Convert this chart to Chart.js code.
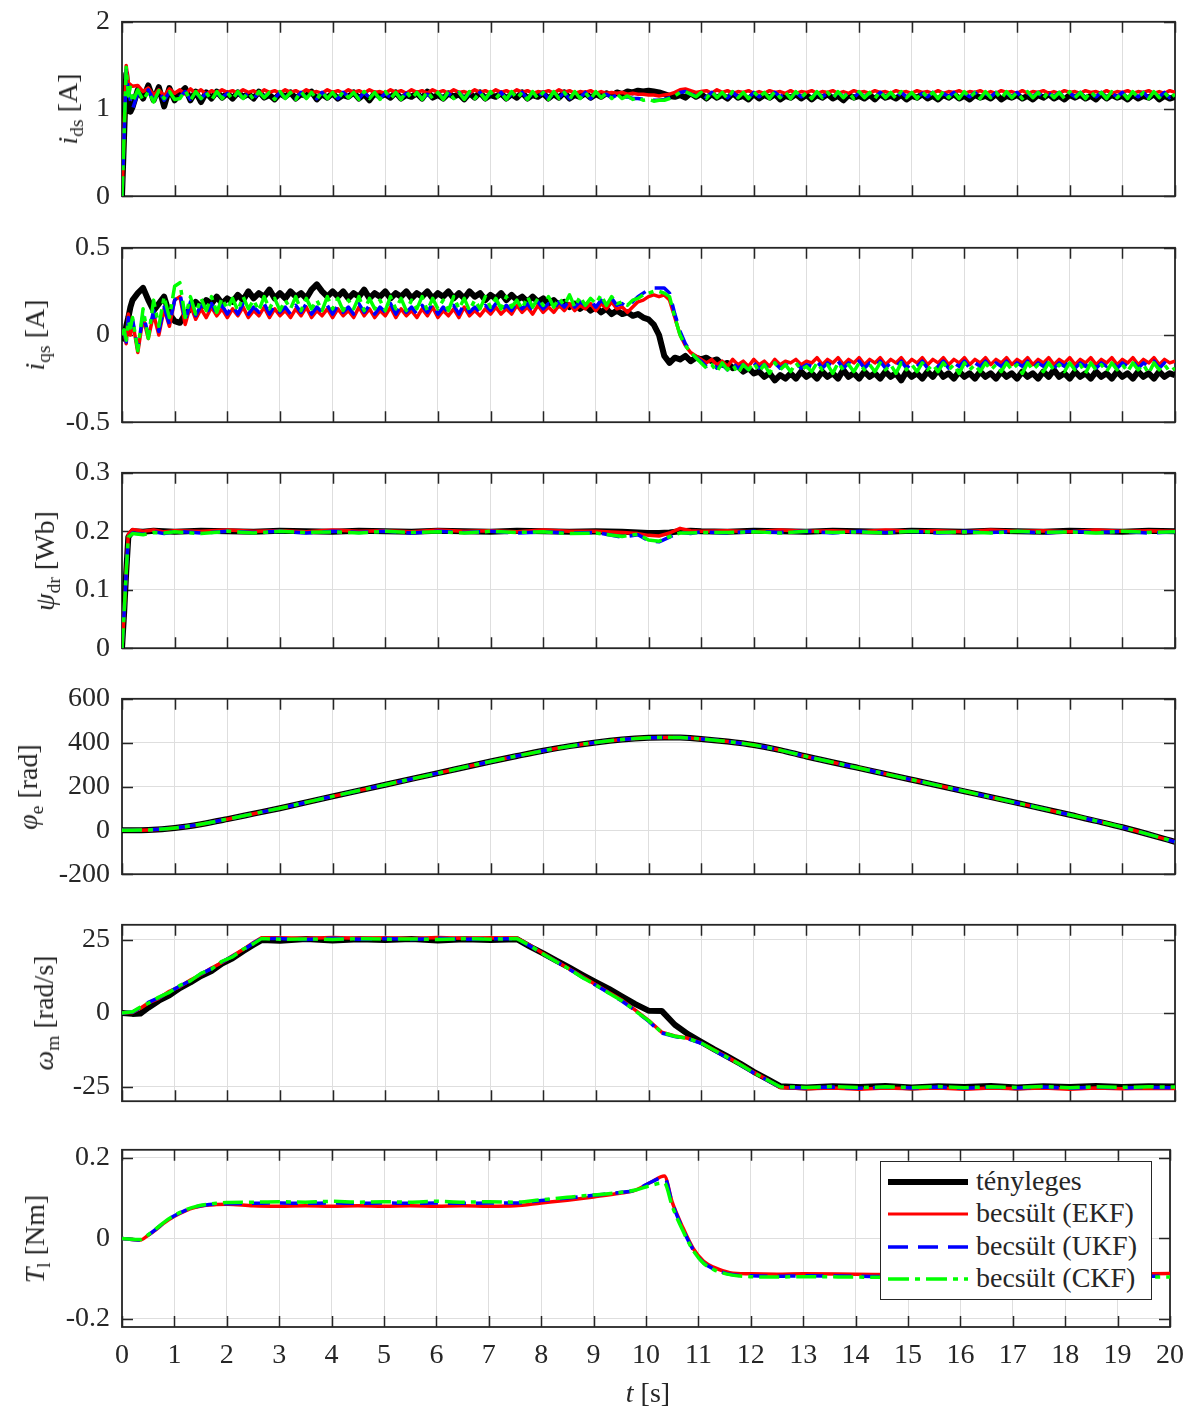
<!DOCTYPE html>
<html>
<head>
<meta charset="utf-8">
<script src="https://cdn.jsdelivr.net/npm/chart.js"></script>
<style>
  html, body { margin: 0; padding: 0; background: #fff; }
  #wrap { position: relative; width: 1196px; height: 1411px; overflow: hidden; font-family: 'Liberation Serif', serif; color: #262626; }
  canvas { position: absolute; left: 0; }
  .ylab { position: absolute; font-size: 28px; line-height: 1; white-space: nowrap; transform: translate(-50%, -50%) rotate(-90deg); }
  .ylab sub, .xlab sub { font-size: 0.7em; vertical-align: -0.3em; line-height: 0; }
  .xlab { position: absolute; font-size: 28px; line-height: 1; white-space: nowrap; transform: translate(-50%, -50%); }
  #legend { position: absolute; left: 880px; top: 1161px; width: 272px; height: 139px; box-sizing: border-box; border: 1.5px solid #262626; background: #fff; }
  #legend .row { position: absolute; left: 0; height: 32px; width: 100%; }
  #legend svg { position: absolute; left: 7px; top: 0; }
  #legend span { position: absolute; left: 95px; top: 50%; transform: translateY(-52%); font-size: 28px; line-height: 1; white-space: nowrap; }
</style>
</head>
<body>
<div id="wrap"></div>
<script>
// ---- time bases ----
const tB = [0, 0.04, 0.08, 0.12, 0.16, 0.2, 0.3, 0.4, 0.5, 0.6, 0.7, 0.8, 0.9, 1,
  1.1, 1.2, 1.3, 1.4, 1.5, 1.6, 1.7, 1.8, 1.9, 2,
  2.1, 2.2, 2.3, 2.4, 2.5, 2.6, 2.7, 2.8, 2.9, 3,
  3.1, 3.2, 3.3, 3.4, 3.5, 3.6, 3.7, 3.8, 3.9, 4,
  4.1, 4.2, 4.3, 4.4, 4.5, 4.6, 4.7, 4.8, 4.9, 5,
  5.1, 5.2, 5.3, 5.4, 5.5, 5.6, 5.7, 5.8, 5.9, 6,
  6.1, 6.2, 6.3, 6.4, 6.5, 6.6, 6.7, 6.8, 6.9, 7,
  7.1, 7.2, 7.3, 7.4, 7.5, 7.6, 7.7, 7.8, 7.9, 8,
  8.1, 8.2, 8.3, 8.4, 8.5, 8.6, 8.7, 8.8, 8.9, 9,
  9.1, 9.2, 9.3, 9.4, 9.5, 9.6, 9.7, 9.8, 9.9, 10,
  10.1, 10.2, 10.3, 10.4, 10.5, 10.6, 10.7, 10.8, 10.9, 11,
  11.1, 11.2, 11.3, 11.4, 11.5, 11.6, 11.7, 11.8, 11.9, 12,
  12.1, 12.2, 12.3, 12.4, 12.5, 12.6, 12.7, 12.8, 12.9, 13,
  13.1, 13.2, 13.3, 13.4, 13.5, 13.6, 13.7, 13.8, 13.9, 14,
  14.1, 14.2, 14.3, 14.4, 14.5, 14.6, 14.7, 14.8, 14.9, 15,
  15.1, 15.2, 15.3, 15.4, 15.5, 15.6, 15.7, 15.8, 15.9, 16,
  16.1, 16.2, 16.3, 16.4, 16.5, 16.6, 16.7, 16.8, 16.9, 17,
  17.1, 17.2, 17.3, 17.4, 17.5, 17.6, 17.7, 17.8, 17.9, 18,
  18.1, 18.2, 18.3, 18.4, 18.5, 18.6, 18.7, 18.8, 18.9, 19,
  19.1, 19.2, 19.3, 19.4, 19.5, 19.6, 19.7, 19.8, 19.9, 20];
const tC = [0, 0.04, 0.08, 0.12, 0.2, 0.4, 0.6, 0.8, 1, 1.5, 2, 2.5, 3, 3.5, 4, 4.5, 5, 5.5, 6,
  6.5, 7, 7.5, 8, 8.5, 9, 9.5, 9.8, 10, 10.2, 10.4, 10.6, 10.8, 11, 11.5, 12, 12.5, 13,
  13.5, 14, 14.5, 15, 15.5, 16, 16.5, 17, 17.5, 18, 18.5, 19, 19.5, 20];
const tD = [0, 0.5, 1, 1.5, 2, 2.5, 3, 4, 5, 6, 7, 7.5, 8, 8.5, 9, 9.5, 10, 10.3, 10.6, 11,
  11.5, 12, 12.5, 13, 14, 15, 16, 17, 18, 19, 20];
const tE = [0, 0.2, 0.35, 0.5, 0.7, 0.9, 1.1, 1.3, 1.5, 1.7, 1.9, 2.1, 2.3, 2.5, 2.65,
  3, 3.5, 4, 4.5, 5, 5.5, 6, 6.5, 7, 7.5,
  7.75, 8, 8.25, 8.5, 8.75, 9, 9.25, 9.5, 9.75, 10, 10.25, 10.5, 10.75, 11, 11.25, 11.5, 11.75, 12, 12.25, 12.5,
  13, 13.5, 14, 14.5, 15, 15.5, 16, 16.5, 17, 17.5, 18, 18.5, 19, 19.5, 20];
const tF = [0, 0.35, 0.5, 0.65, 0.8, 1, 1.2, 1.4, 1.6, 1.8, 2, 2.5, 3, 3.5, 4, 4.5, 5, 5.5, 6,
  6.5, 7, 7.5, 8, 8.5, 9, 9.5, 9.8, 10.1, 10.35, 10.5, 10.7, 10.9, 11.1, 11.3, 11.6, 12,
  12.5, 13, 14, 15, 16, 17, 18, 19, 20];

// ---- tick labels ----
const xTicks = [0, 1, 2, 3, 4, 5, 6, 7, 8, 9, 10, 11, 12, 13, 14, 15, 16, 17, 18, 19, 20];
const idsTicks = [0, 1, 2];
const iqsTicks = [-0.5, 0, 0.5];
const psiTicks = [0, 0.1, 0.2, 0.3];
const phiTicks = [-200, 0, 200, 400, 600];
const omegaTicks = [-25, 0, 25];
const tlTicks = [-0.2, 0, 0.2];

const legendLabels = ['tényleges', 'becsült (EKF)', 'becsült (UKF)', 'becsült (CKF)'];

// ---- i_ds [A] ----
const idsReal = [0, 0.7, 1.4, 1.05, 0.97, 1.02, 1.22, 1.12, 1.27, 1.1, 1.25, 1.03, 1.24, 1.1,
  1.18, 1.24, 1.1, 1.2, 1.08, 1.19, 1.12, 1.2, 1.13, 1.18,
  1.12, 1.19, 1.14, 1.17, 1.12, 1.2, 1.13, 1.16, 1.11, 1.18,
  1.14, 1.19, 1.12, 1.17, 1.15, 1.2, 1.11, 1.17, 1.13, 1.18,
  1.12, 1.16, 1.14, 1.19, 1.12, 1.17, 1.1, 1.18, 1.14, 1.17,
  1.13, 1.19, 1.12, 1.16, 1.14, 1.18, 1.12, 1.2, 1.13, 1.16,
  1.12, 1.18, 1.14, 1.17, 1.11, 1.18, 1.13, 1.19, 1.12, 1.16,
  1.14, 1.18, 1.12, 1.17, 1.13, 1.19, 1.12, 1.16, 1.14, 1.18,
  1.12, 1.17, 1.13, 1.19, 1.12, 1.16, 1.14, 1.18, 1.13, 1.17,
  1.14, 1.18, 1.15, 1.19, 1.17, 1.2, 1.19, 1.21, 1.2, 1.21,
  1.2, 1.19, 1.17, 1.15, 1.14, 1.16, 1.13, 1.18, 1.14, 1.17,
  1.12, 1.17, 1.13, 1.16, 1.12, 1.18, 1.13, 1.15, 1.11, 1.17,
  1.12, 1.16, 1.13, 1.17, 1.11, 1.15, 1.13, 1.17, 1.12, 1.16,
  1.11, 1.16, 1.13, 1.17, 1.12, 1.15, 1.1, 1.16, 1.13, 1.15,
  1.12, 1.16, 1.11, 1.17, 1.13, 1.15, 1.12, 1.16, 1.11, 1.15,
  1.13, 1.17, 1.12, 1.15, 1.11, 1.16, 1.13, 1.17, 1.12, 1.15,
  1.11, 1.16, 1.13, 1.15, 1.12, 1.17, 1.11, 1.15, 1.13, 1.16,
  1.12, 1.15, 1.11, 1.16, 1.13, 1.17, 1.12, 1.15, 1.11, 1.16,
  1.13, 1.16, 1.12, 1.15, 1.11, 1.17, 1.12, 1.16, 1.13, 1.15,
  1.11, 1.16, 1.12, 1.15, 1.13, 1.17, 1.11, 1.15, 1.12, 1.14];
const idsEKF = [0, 0.75, 1.5, 1.3, 1.28, 1.26, 1.27, 1.2, 1.24, 1.16, 1.22, 1.15, 1.23, 1.18,
  1.22, 1.17, 1.23, 1.18, 1.22, 1.17, 1.21, 1.18, 1.22, 1.19,
  1.21, 1.18, 1.22, 1.19, 1.21, 1.17, 1.22, 1.19, 1.21, 1.18,
  1.22, 1.19, 1.21, 1.18, 1.22, 1.19, 1.2, 1.18, 1.22, 1.19,
  1.21, 1.18, 1.22, 1.19, 1.21, 1.18, 1.22, 1.19, 1.2, 1.18,
  1.22, 1.19, 1.21, 1.18, 1.22, 1.19, 1.21, 1.18, 1.22, 1.19,
  1.21, 1.18, 1.22, 1.19, 1.2, 1.18, 1.22, 1.19, 1.21, 1.18,
  1.22, 1.19, 1.21, 1.18, 1.22, 1.19, 1.21, 1.18, 1.2, 1.19,
  1.21, 1.18, 1.22, 1.19, 1.21, 1.18, 1.2, 1.19, 1.21, 1.18,
  1.2, 1.18, 1.19, 1.18, 1.19, 1.17, 1.18, 1.17, 1.17, 1.16,
  1.16, 1.15, 1.16, 1.17, 1.19, 1.22, 1.23, 1.21, 1.19, 1.2,
  1.21, 1.18, 1.22, 1.19, 1.21, 1.18, 1.2, 1.19, 1.21, 1.18,
  1.2, 1.18, 1.21, 1.19, 1.2, 1.18, 1.21, 1.18, 1.2, 1.19,
  1.21, 1.18, 1.2, 1.19, 1.21, 1.18, 1.2, 1.18, 1.21, 1.19,
  1.2, 1.18, 1.21, 1.19, 1.2, 1.18, 1.21, 1.19, 1.2, 1.18,
  1.21, 1.19, 1.2, 1.18, 1.21, 1.18, 1.2, 1.19, 1.21, 1.18,
  1.2, 1.19, 1.21, 1.18, 1.2, 1.18, 1.21, 1.19, 1.2, 1.18,
  1.21, 1.18, 1.2, 1.19, 1.21, 1.18, 1.2, 1.18, 1.21, 1.19,
  1.2, 1.18, 1.21, 1.19, 1.2, 1.18, 1.21, 1.18, 1.2, 1.19,
  1.21, 1.18, 1.2, 1.19, 1.21, 1.18, 1.2, 1.18, 1.21, 1.19];
const idsUKF = [0, 0.7, 1.45, 1.2, 1.1, 1.0, 1.18, 1.14, 1.22, 1.1, 1.2, 1.1, 1.19, 1.12,
  1.14, 1.2, 1.11, 1.19, 1.12, 1.18, 1.11, 1.19, 1.13, 1.18,
  1.12, 1.19, 1.13, 1.18, 1.12, 1.19, 1.14, 1.18, 1.12, 1.19,
  1.13, 1.18, 1.12, 1.19, 1.13, 1.17, 1.12, 1.19, 1.13, 1.18,
  1.12, 1.19, 1.14, 1.18, 1.12, 1.19, 1.13, 1.17, 1.12, 1.18,
  1.13, 1.19, 1.12, 1.18, 1.14, 1.19, 1.12, 1.17, 1.13, 1.19,
  1.12, 1.18, 1.13, 1.19, 1.12, 1.18, 1.14, 1.19, 1.12, 1.18,
  1.13, 1.19, 1.12, 1.17, 1.13, 1.19, 1.12, 1.18, 1.14, 1.19,
  1.12, 1.18, 1.13, 1.19, 1.12, 1.17, 1.13, 1.19, 1.12, 1.18,
  1.14, 1.17, 1.13, 1.16, 1.13, 1.14, 1.12, 1.12, 1.11, 1.11,
  1.1, 1.1, 1.11, 1.13, 1.16, 1.19, 1.2, 1.17, 1.15, 1.18,
  1.13, 1.19, 1.14, 1.18, 1.13, 1.19, 1.14, 1.18, 1.13, 1.19,
  1.14, 1.18, 1.13, 1.19, 1.14, 1.18, 1.13, 1.19, 1.14, 1.18,
  1.13, 1.19, 1.14, 1.18, 1.13, 1.19, 1.14, 1.18, 1.13, 1.19,
  1.14, 1.18, 1.13, 1.19, 1.14, 1.18, 1.13, 1.19, 1.14, 1.18,
  1.13, 1.18, 1.14, 1.19, 1.13, 1.18, 1.14, 1.19, 1.13, 1.18,
  1.14, 1.19, 1.13, 1.18, 1.14, 1.19, 1.13, 1.18, 1.14, 1.19,
  1.13, 1.18, 1.14, 1.19, 1.13, 1.18, 1.14, 1.19, 1.13, 1.18,
  1.14, 1.19, 1.13, 1.18, 1.14, 1.19, 1.13, 1.18, 1.14, 1.19,
  1.13, 1.18, 1.14, 1.19, 1.13, 1.18, 1.14, 1.19, 1.13, 1.17];
const idsCKF = [0, 0.7, 1.48, 1.15, 1.25, 1.08, 1.22, 1.1, 1.2, 1.08, 1.21, 1.12, 1.2, 1.11,
  1.12, 1.21, 1.1, 1.2, 1.12, 1.19, 1.1, 1.2, 1.12, 1.19,
  1.11, 1.2, 1.12, 1.19, 1.11, 1.2, 1.13, 1.19, 1.11, 1.2,
  1.12, 1.19, 1.11, 1.2, 1.12, 1.19, 1.11, 1.2, 1.12, 1.19,
  1.11, 1.2, 1.13, 1.19, 1.11, 1.2, 1.12, 1.19, 1.11, 1.2,
  1.12, 1.19, 1.11, 1.2, 1.12, 1.19, 1.11, 1.2, 1.12, 1.19,
  1.11, 1.2, 1.12, 1.19, 1.11, 1.2, 1.12, 1.19, 1.11, 1.2,
  1.12, 1.19, 1.11, 1.2, 1.12, 1.19, 1.11, 1.2, 1.12, 1.19,
  1.11, 1.2, 1.12, 1.19, 1.11, 1.2, 1.12, 1.19, 1.11, 1.2,
  1.13, 1.18, 1.12, 1.17, 1.12, 1.15, 1.11, 1.13, 1.1, 1.11,
  1.09, 1.1, 1.1, 1.12, 1.15, 1.19, 1.2, 1.17, 1.14, 1.19,
  1.12, 1.2, 1.13, 1.19, 1.12, 1.2, 1.13, 1.19, 1.12, 1.2,
  1.13, 1.19, 1.12, 1.2, 1.13, 1.19, 1.12, 1.2, 1.13, 1.19,
  1.12, 1.2, 1.13, 1.19, 1.12, 1.2, 1.13, 1.19, 1.12, 1.2,
  1.13, 1.19, 1.12, 1.2, 1.13, 1.19, 1.12, 1.2, 1.13, 1.19,
  1.12, 1.2, 1.13, 1.19, 1.12, 1.2, 1.13, 1.19, 1.12, 1.2,
  1.13, 1.19, 1.12, 1.2, 1.13, 1.19, 1.12, 1.2, 1.13, 1.19,
  1.12, 1.2, 1.13, 1.19, 1.12, 1.2, 1.13, 1.19, 1.12, 1.2,
  1.13, 1.19, 1.12, 1.2, 1.13, 1.19, 1.12, 1.2, 1.13, 1.19,
  1.12, 1.2, 1.13, 1.19, 1.12, 1.2, 1.13, 1.19, 1.12, 1.17];

// ---- i_qs [A] ----
const iqsReal = [0, -0.02, 0.05, 0.1, 0.16, 0.2, 0.24, 0.27, 0.2, 0.14, 0.18, 0.22, 0.12, 0.08,
  0.07, 0.12, 0.15, 0.19, 0.16, 0.2, 0.18, 0.22, 0.18, 0.21,
  0.19, 0.23, 0.2, 0.25, 0.21, 0.24, 0.22, 0.26, 0.21, 0.24,
  0.21, 0.25, 0.22, 0.24, 0.21, 0.26, 0.29, 0.25, 0.22, 0.25,
  0.22, 0.25, 0.21, 0.24, 0.22, 0.26, 0.21, 0.24, 0.22, 0.25,
  0.21, 0.24, 0.22, 0.25, 0.21, 0.24, 0.22, 0.25, 0.21, 0.24,
  0.22, 0.25, 0.21, 0.24, 0.21, 0.25, 0.22, 0.24, 0.2, 0.23,
  0.21, 0.24, 0.2, 0.23, 0.2, 0.22, 0.19, 0.22, 0.19, 0.21,
  0.18, 0.2, 0.17, 0.19, 0.16, 0.18, 0.15, 0.17, 0.14, 0.16,
  0.13, 0.15, 0.12, 0.14, 0.12, 0.13, 0.11, 0.12, 0.1, 0.09,
  0.06, 0.0, -0.12, -0.16, -0.13, -0.14, -0.12, -0.15, -0.13, -0.14,
  -0.13, -0.15, -0.14, -0.17, -0.16, -0.19, -0.18, -0.21, -0.19, -0.22,
  -0.21, -0.24, -0.22, -0.26, -0.23, -0.25, -0.22, -0.25, -0.21, -0.24,
  -0.22, -0.25, -0.21, -0.24, -0.22, -0.25, -0.2, -0.24, -0.22, -0.25,
  -0.21, -0.24, -0.22, -0.25, -0.21, -0.24, -0.22, -0.26, -0.21, -0.24,
  -0.22, -0.25, -0.21, -0.24, -0.2, -0.24, -0.22, -0.25, -0.21, -0.24,
  -0.22, -0.25, -0.21, -0.24, -0.22, -0.25, -0.21, -0.24, -0.22, -0.25,
  -0.21, -0.24, -0.22, -0.25, -0.21, -0.24, -0.2, -0.24, -0.22, -0.25,
  -0.21, -0.24, -0.22, -0.25, -0.21, -0.24, -0.22, -0.25, -0.21, -0.24,
  -0.22, -0.25, -0.21, -0.24, -0.22, -0.25, -0.21, -0.24, -0.22, -0.23];
const iqsEKF = [0, 0.02, -0.05, 0.12, 0.0, 0.08, -0.1, 0.1, -0.02, 0.12, 0.0, 0.15, 0.05, 0.2,
  0.22, 0.06, 0.17, 0.09, 0.15, 0.1, 0.16, 0.11, 0.15, 0.1,
  0.15, 0.11, 0.16, 0.1, 0.14, 0.11, 0.16, 0.1, 0.15, 0.11,
  0.14, 0.1, 0.15, 0.11, 0.16, 0.1, 0.14, 0.11, 0.15, 0.1,
  0.15, 0.11, 0.14, 0.1, 0.16, 0.11, 0.15, 0.1, 0.14, 0.11,
  0.16, 0.1, 0.15, 0.11, 0.14, 0.1, 0.15, 0.11, 0.16, 0.1,
  0.14, 0.11, 0.15, 0.1, 0.16, 0.11, 0.14, 0.11, 0.15, 0.12,
  0.16, 0.12, 0.15, 0.12, 0.17, 0.13, 0.16, 0.12, 0.17, 0.13,
  0.16, 0.13, 0.17, 0.14, 0.18, 0.14, 0.17, 0.15, 0.18, 0.14,
  0.18, 0.15, 0.19, 0.15, 0.16, 0.13, 0.16, 0.19, 0.2, 0.22,
  0.23, 0.22, 0.23, 0.2, 0.1, 0.0, -0.06, -0.1, -0.12, -0.14,
  -0.16, -0.14, -0.17, -0.15, -0.18, -0.14, -0.17, -0.15, -0.18, -0.14,
  -0.17, -0.15, -0.18, -0.14, -0.17, -0.15, -0.16, -0.14, -0.17, -0.15,
  -0.16, -0.13, -0.17, -0.14, -0.16, -0.13, -0.17, -0.14, -0.16, -0.13,
  -0.17, -0.14, -0.16, -0.13, -0.17, -0.14, -0.16, -0.13, -0.17, -0.14,
  -0.16, -0.13, -0.17, -0.14, -0.16, -0.13, -0.17, -0.14, -0.16, -0.13,
  -0.17, -0.14, -0.16, -0.13, -0.17, -0.14, -0.16, -0.13, -0.17, -0.14,
  -0.16, -0.13, -0.17, -0.14, -0.16, -0.13, -0.17, -0.14, -0.16, -0.13,
  -0.17, -0.14, -0.16, -0.13, -0.17, -0.14, -0.16, -0.13, -0.17, -0.14,
  -0.16, -0.13, -0.17, -0.14, -0.16, -0.13, -0.17, -0.14, -0.16, -0.15];
const iqsUKF = [0, 0.02, -0.04, 0.1, 0.02, 0.09, -0.08, 0.12, 0.0, 0.14, 0.02, 0.16, 0.06, 0.2,
  0.24, 0.08, 0.19, 0.11, 0.17, 0.12, 0.18, 0.12, 0.17, 0.12,
  0.17, 0.12, 0.18, 0.12, 0.16, 0.13, 0.18, 0.12, 0.17, 0.13,
  0.16, 0.12, 0.17, 0.13, 0.18, 0.12, 0.16, 0.13, 0.17, 0.12,
  0.17, 0.13, 0.16, 0.12, 0.18, 0.13, 0.17, 0.12, 0.16, 0.13,
  0.18, 0.12, 0.17, 0.13, 0.16, 0.12, 0.17, 0.13, 0.18, 0.12,
  0.16, 0.13, 0.17, 0.12, 0.18, 0.13, 0.16, 0.13, 0.17, 0.14,
  0.18, 0.14, 0.17, 0.14, 0.19, 0.15, 0.18, 0.14, 0.19, 0.15,
  0.18, 0.15, 0.19, 0.16, 0.2, 0.16, 0.19, 0.17, 0.2, 0.16,
  0.2, 0.17, 0.21, 0.17, 0.18, 0.16, 0.19, 0.22, 0.24, 0.26,
  0.27, 0.27, 0.27, 0.24, 0.12, 0.02, -0.05, -0.1, -0.13, -0.15,
  -0.18, -0.16, -0.19, -0.17, -0.2, -0.16, -0.19, -0.17, -0.2, -0.16,
  -0.19, -0.17, -0.2, -0.16, -0.19, -0.17, -0.18, -0.16, -0.19, -0.17,
  -0.18, -0.15, -0.19, -0.16, -0.18, -0.15, -0.19, -0.16, -0.18, -0.15,
  -0.19, -0.16, -0.18, -0.15, -0.19, -0.16, -0.18, -0.15, -0.19, -0.16,
  -0.18, -0.15, -0.19, -0.16, -0.18, -0.15, -0.19, -0.16, -0.18, -0.15,
  -0.19, -0.16, -0.18, -0.15, -0.19, -0.16, -0.18, -0.15, -0.19, -0.16,
  -0.18, -0.15, -0.19, -0.16, -0.18, -0.15, -0.19, -0.16, -0.18, -0.15,
  -0.19, -0.16, -0.18, -0.15, -0.19, -0.16, -0.18, -0.15, -0.19, -0.16,
  -0.18, -0.15, -0.19, -0.16, -0.18, -0.15, -0.19, -0.16, -0.18, -0.17];
const iqsCKF = [0, 0.03, -0.03, 0.08, 0.04, 0.1, -0.09, 0.15, -0.02, 0.2, 0.05, 0.22, 0.1, 0.28,
  0.3, 0.1, 0.22, 0.12, 0.21, 0.14, 0.22, 0.13, 0.21, 0.15,
  0.21, 0.14, 0.22, 0.15, 0.2, 0.14, 0.22, 0.15, 0.21, 0.14,
  0.2, 0.15, 0.22, 0.14, 0.21, 0.15, 0.2, 0.14, 0.22, 0.15,
  0.21, 0.14, 0.2, 0.15, 0.22, 0.14, 0.21, 0.15, 0.2, 0.14,
  0.22, 0.15, 0.21, 0.14, 0.2, 0.15, 0.22, 0.14, 0.21, 0.15,
  0.2, 0.14, 0.22, 0.15, 0.21, 0.14, 0.2, 0.15, 0.22, 0.16,
  0.21, 0.15, 0.22, 0.16, 0.2, 0.15, 0.22, 0.16, 0.21, 0.17,
  0.22, 0.16, 0.21, 0.17, 0.23, 0.16, 0.22, 0.17, 0.21, 0.18,
  0.23, 0.17, 0.22, 0.18, 0.19, 0.17, 0.2, 0.21, 0.23, 0.24,
  0.25, 0.25, 0.24, 0.22, 0.1, 0.0, -0.06, -0.1, -0.13, -0.16,
  -0.19, -0.17, -0.21, -0.16, -0.2, -0.17, -0.22, -0.17, -0.2, -0.16,
  -0.21, -0.17, -0.22, -0.16, -0.2, -0.17, -0.21, -0.16, -0.2, -0.18,
  -0.21, -0.16, -0.2, -0.17, -0.22, -0.16, -0.2, -0.17, -0.21, -0.16,
  -0.2, -0.17, -0.21, -0.16, -0.2, -0.17, -0.22, -0.16, -0.2, -0.17,
  -0.21, -0.16, -0.2, -0.17, -0.21, -0.16, -0.2, -0.17, -0.22, -0.16,
  -0.2, -0.17, -0.21, -0.16, -0.2, -0.17, -0.21, -0.16, -0.2, -0.17,
  -0.22, -0.16, -0.2, -0.17, -0.21, -0.16, -0.2, -0.17, -0.21, -0.16,
  -0.2, -0.17, -0.22, -0.16, -0.2, -0.17, -0.21, -0.16, -0.2, -0.17,
  -0.21, -0.16, -0.2, -0.17, -0.22, -0.16, -0.2, -0.17, -0.21, -0.19];

// ---- psi_dr [Wb] ----
const psiReal = [0, 0.06, 0.13, 0.19, 0.2, 0.199, 0.201, 0.2, 0.199,
  0.201, 0.2, 0.199, 0.201, 0.2, 0.199, 0.201, 0.2, 0.199, 0.201, 0.2, 0.199, 0.201, 0.2, 0.199, 0.2, 0.199,
  0.198, 0.197, 0.197, 0.198, 0.2, 0.201, 0.2,
  0.199, 0.201, 0.2, 0.199, 0.201, 0.2, 0.199, 0.201, 0.2, 0.199, 0.201, 0.2, 0.199, 0.201, 0.2, 0.199, 0.201, 0.2];
const psiEKF = [0, 0.06, 0.13, 0.195, 0.203, 0.2, 0.202, 0.199, 0.201,
  0.2, 0.202, 0.2, 0.201, 0.199, 0.202, 0.2, 0.201, 0.199, 0.202, 0.2, 0.201, 0.199, 0.202, 0.2, 0.2, 0.198,
  0.196, 0.193, 0.192, 0.197, 0.205, 0.201, 0.2,
  0.201, 0.199, 0.202, 0.2, 0.201, 0.199, 0.202, 0.2, 0.201, 0.199, 0.202, 0.2, 0.201, 0.199, 0.202, 0.2, 0.201, 0.2];
const psiUKF = [0, 0.06, 0.13, 0.19, 0.197, 0.195, 0.199, 0.196, 0.2,
  0.197, 0.2, 0.198, 0.2, 0.197, 0.2, 0.198, 0.2, 0.197, 0.2, 0.198, 0.2, 0.197, 0.199, 0.197, 0.198, 0.19,
  0.194, 0.184, 0.182, 0.19, 0.198, 0.196, 0.199,
  0.197, 0.2, 0.198, 0.2, 0.197, 0.2, 0.198, 0.2, 0.197, 0.2, 0.198, 0.2, 0.197, 0.2, 0.198, 0.2, 0.197, 0.199];
const psiCKF = [0, 0.06, 0.13, 0.19, 0.196, 0.194, 0.198, 0.197, 0.199,
  0.196, 0.2, 0.197, 0.2, 0.198, 0.199, 0.197, 0.2, 0.198, 0.199, 0.197, 0.2, 0.198, 0.199, 0.196, 0.197, 0.191,
  0.195, 0.185, 0.183, 0.191, 0.197, 0.197, 0.198,
  0.198, 0.199, 0.197, 0.2, 0.198, 0.199, 0.197, 0.2, 0.198, 0.199, 0.197, 0.2, 0.198, 0.199, 0.197, 0.2, 0.198, 0.199];

// ---- phi_e [rad] (all four curves coincide) ----
const phiAll = [0, 2, 11, 28, 51, 76, 101, 155, 208, 261, 314, 339, 363, 384, 401, 414, 422, 424, 423, 417,
  405, 389, 366, 337, 284, 231, 178, 125, 71, 14, -52];

// ---- omega_m [rad/s] ----
const omegaReal = [0, -0.3, -0.2, 1.8, 4.2, 6.0, 8.5, 10.4, 12.6, 14.3, 16.8, 18.6, 21.0, 23.2, 24.8,
  24.6, 25.2, 24.7, 25.1, 24.8, 25.2, 24.7, 25.1, 24.8, 25.1,
  22.6, 20.3, 17.8, 15.4, 12.9, 10.5, 8.2, 5.6, 3.0, 0.8, 0.7, -4.0, -7.2, -9.8, -12.4, -14.8, -17.3, -20.0, -22.4, -24.9,
  -25.3, -24.9, -25.2, -24.8, -25.3, -24.9, -25.2, -24.8, -25.3, -24.9, -25.2, -24.8, -25.2, -24.9, -25.0];
const omegaEKF = [0, 0.2, 1.6, 3.4, 5.0, 7.4, 9.0, 11.2, 13.1, 15.3, 17.2, 19.5, 21.6, 24.0, 25.6,
  25.6, 25.4, 25.7, 25.4, 25.6, 25.3, 25.7, 25.4, 25.6, 25.5,
  23.0, 20.2, 17.6, 15.0, 12.3, 9.6, 7.0, 4.3, 1.0, -2.5, -6.5, -7.8, -8.6, -10.2, -12.6, -15.0, -17.5, -20.2, -22.6, -25.3,
  -25.8, -25.5, -25.9, -25.5, -25.8, -25.5, -25.9, -25.5, -25.8, -25.5, -25.9, -25.5, -25.8, -25.6, -25.7];
const omegaUKF = [0, 0.3, 1.8, 3.6, 5.2, 7.2, 9.2, 11.0, 13.3, 15.1, 17.4, 19.3, 21.4, 23.8, 25.4,
  25.3, 25.0, 25.4, 25.1, 25.3, 25.0, 25.4, 25.1, 25.3, 25.2,
  22.8, 20.0, 17.5, 14.8, 12.1, 9.4, 6.8, 4.0, 0.8, -2.8, -6.8, -8.0, -8.8, -10.3, -12.8, -15.2, -17.7, -20.4, -22.8, -25.2,
  -25.5, -25.2, -25.6, -25.2, -25.5, -25.2, -25.6, -25.2, -25.5, -25.2, -25.6, -25.2, -25.5, -25.3, -25.4];
const omegaCKF = [0, 0.4, 2.0, 3.3, 5.4, 7.0, 9.4, 10.9, 13.5, 14.9, 17.6, 19.1, 21.7, 23.6, 25.3,
  25.1, 25.2, 25.0, 25.3, 25.1, 25.2, 25.0, 25.3, 25.1, 25.3,
  22.9, 20.1, 17.4, 14.9, 12.0, 9.5, 6.7, 4.1, 0.7, -2.6, -6.6, -7.9, -8.7, -10.2, -12.7, -15.1, -17.6, -20.3, -22.7, -25.1,
  -25.3, -25.0, -25.4, -25.1, -25.3, -25.0, -25.4, -25.1, -25.3, -25.0, -25.4, -25.1, -25.3, -25.1, -25.2];

// ---- T_l [Nm] (estimates only) ----
const tlEKF = [0, -0.004, 0.008, 0.022, 0.038, 0.055, 0.068, 0.077, 0.082, 0.084, 0.085,
  0.081, 0.08, 0.081, 0.08, 0.081, 0.08, 0.081, 0.08, 0.081, 0.08, 0.081,
  0.088, 0.095, 0.103, 0.112,
  0.12, 0.14, 0.155, 0.09, 0.028, -0.025, -0.057, -0.072, -0.085, -0.088,
  -0.089, -0.088, -0.089, -0.09, -0.089, -0.09, -0.09, -0.089, -0.087];
const tlUKF = [0, -0.004, 0.008, 0.023, 0.039, 0.056, 0.069, 0.078, 0.083, 0.085, 0.086,
  0.087, 0.088, 0.087, 0.088, 0.087, 0.088, 0.087, 0.088, 0.087, 0.088, 0.088,
  0.094, 0.1, 0.107, 0.114,
  0.12, 0.14, 0.152, 0.088, 0.024, -0.028, -0.061, -0.076, -0.089, -0.093,
  -0.094, -0.093, -0.094, -0.095, -0.094, -0.095, -0.095, -0.094, -0.094];
const tlCKF = [0, -0.003, 0.009, 0.024, 0.04, 0.057, 0.07, 0.079, 0.084, 0.087, 0.089,
  0.09, 0.091, 0.09, 0.092, 0.09, 0.091, 0.09, 0.092, 0.09, 0.091, 0.09,
  0.096, 0.102, 0.108, 0.114,
  0.12, 0.132, 0.138, 0.08, 0.02, -0.03, -0.062, -0.078, -0.09, -0.095,
  -0.096, -0.095, -0.096, -0.097, -0.096, -0.097, -0.097, -0.096, -0.096];

// ---- styles ----
const INK = '#262626';
const GRID = '#dedede';
const FONT = "'Liberation Serif', 'DejaVu Serif', serif";
Chart.defaults.font.family = FONT;
Chart.defaults.font.size = 28;
Chart.defaults.color = INK;

const lineStyles = [
  { borderColor: '#000000', borderWidth: 6, order: 4 },
  { borderColor: '#ff0000', borderWidth: 3.5, order: 3 },
  { borderColor: '#0000ff', borderWidth: 3.5, borderDash: [18, 10], order: 2 },
  { borderColor: '#00ff00', borderWidth: 3.5, borderDash: [20, 6, 5, 6], order: 1 }
];

// box + inward ticks, like a matlab axes
const matlabBox = {
  id: 'matlabBox',
  beforeDatasetsDraw(chart) {
    const { ctx, chartArea: a, scales: { x, y } } = chart;
    ctx.save();
    ctx.strokeStyle = INK;
    ctx.lineWidth = 1.5;
    ctx.beginPath();
    x.ticks.forEach(tk => {
      const px = Math.round(x.getPixelForValue(tk.value)) + 0.5;
      ctx.moveTo(px, a.bottom); ctx.lineTo(px, a.bottom - 11);
      ctx.moveTo(px, a.top); ctx.lineTo(px, a.top + 11);
    });
    y.ticks.forEach(tk => {
      const py = Math.round(y.getPixelForValue(tk.value)) + 0.5;
      ctx.moveTo(a.left, py); ctx.lineTo(a.left + 11, py);
      ctx.moveTo(a.right, py); ctx.lineTo(a.right - 11, py);
    });
    ctx.stroke();
    ctx.lineWidth = 1.8;
    ctx.strokeRect(a.left, a.top, a.right - a.left, a.bottom - a.top);
    ctx.restore();
  }
};

const panels = [
  { top: 22, bottom: 196, min: 0, max: 2, ticks: idsTicks, t: tB,
    series: [idsReal, idsEKF, idsUKF, idsCKF], label: '<i>i</i><sub>ds</sub> [A]', lx: 68 },
  { top: 248, bottom: 422, min: -0.5, max: 0.5, ticks: iqsTicks, t: tB,
    series: [iqsReal, iqsEKF, iqsUKF, iqsCKF], label: '<i>i</i><sub>qs</sub> [A]', lx: 35 },
  { top: 473, bottom: 648, min: 0, max: 0.3, ticks: psiTicks, t: tC,
    series: [psiReal, psiEKF, psiUKF, psiCKF], label: '<i>ψ</i><sub>dr</sub> [Wb]', lx: 45 },
  { top: 699, bottom: 874, min: -200, max: 600, ticks: phiTicks, t: tD, smooth: true,
    series: [phiAll, phiAll, phiAll, phiAll], label: '<i>φ</i><sub>e</sub> [rad]', lx: 28 },
  { top: 925, bottom: 1101, min: -30, max: 30, ticks: omegaTicks, t: tE,
    series: [omegaReal, omegaEKF, omegaUKF, omegaCKF], label: '<i>ω</i><sub>m</sub> [rad/s]', lx: 44 },
  { top: 1150, bottom: 1327, min: -0.22, max: 0.22, ticks: tlTicks, t: tF, smooth: true, lastX: true,
    series: [null, tlEKF, tlUKF, tlCKF], label: '<i>T</i><sub>l</sub> [Nm]', lx: 35 }
];

const wrap = document.getElementById('wrap');

panels.forEach(p => {
  const plotH = p.bottom - p.top;
  const xh = p.lastX ? 1411 - p.bottom : 20;
  const h = 20 + plotH + xh;
  const cv = document.createElement('canvas');
  cv.width = 1196; cv.height = h;
  cv.style.width = '1196px'; cv.style.height = h + 'px';
  cv.style.top = (p.top - 20) + 'px';
  wrap.appendChild(cv);

  const datasets = [];
  p.series.forEach((ys, i) => {
    if (!ys) return;
    datasets.push(Object.assign({
      label: legendLabels[i],
      data: p.t.map((t, k) => ({ x: t, y: ys[k] })),
      pointRadius: 0,
      borderJoinStyle: 'round',
      fill: false,
      cubicInterpolationMode: p.smooth ? 'monotone' : 'default',
      tension: 0
    }, lineStyles[i]));
  });

  const chart = new Chart(cv, {
    type: 'line',
    data: { datasets },
    options: {
      responsive: false,
      maintainAspectRatio: false,
      animation: false,
      devicePixelRatio: 1,
      layout: { padding: { top: 20, right: 21, left: 0, bottom: 0 } },
      plugins: { legend: { display: false }, tooltip: { enabled: false } },
      scales: {
        x: {
          type: 'linear', min: 0, max: 20,
          afterBuildTicks: s => { s.ticks = xTicks.map(v => ({ value: v })); },
          afterFit: s => { s.height = xh; },
          grid: { color: GRID, lineWidth: 1, drawTicks: false },
          border: { display: false },
          ticks: { display: !!p.lastX, padding: 12, autoSkip: false, maxRotation: 0, callback: v => String(v) }
        },
        y: {
          type: 'linear', min: p.min, max: p.max,
          afterBuildTicks: s => { s.ticks = p.ticks.map(v => ({ value: v })); },
          afterFit: s => { s.width = 122; },
          grid: { color: GRID, lineWidth: 1, drawTicks: false },
          border: { display: false },
          ticks: { padding: 12, autoSkip: false, callback: v => String(v) }
        }
      }
    },
    plugins: [matlabBox]
  });

  // make the plot box land exactly on [p.top, p.bottom]
  const a = chart.chartArea;
  const topOff = a.top;
  const botOff = h - a.bottom;
  const newH = Math.round(topOff + plotH + botOff);
  if (newH !== h) {
    cv.style.height = newH + 'px';
    chart.resize(1196, newH);
  }
  cv.style.top = (p.top - chart.chartArea.top) + 'px';

  const lab = document.createElement('div');
  lab.className = 'ylab';
  lab.innerHTML = p.label;
  lab.style.left = p.lx + 'px';
  lab.style.top = ((p.top + p.bottom) / 2) + 'px';
  wrap.appendChild(lab);
});

// x axis title
const xl = document.createElement('div');
xl.className = 'xlab';
xl.innerHTML = '<i>t</i> [s]';
xl.style.left = '648px';
xl.style.top = '1393px';
wrap.appendChild(xl);

// legend (inside the last axes)
const legend = document.createElement('div');
legend.id = 'legend';
const sample = [
  '<line x1="0" y1="16" x2="80" y2="16" stroke="#000" stroke-width="6"/>',
  '<line x1="0" y1="16" x2="80" y2="16" stroke="#f00" stroke-width="3"/>',
  '<line x1="0" y1="16" x2="80" y2="16" stroke="#00f" stroke-width="3.5" stroke-dasharray="20 10"/>',
  '<line x1="0" y1="16" x2="80" y2="16" stroke="#0f0" stroke-width="3.5" stroke-dasharray="21 6 5 6"/>'
];
const rowCenters = [20, 52, 85, 117];
legendLabels.forEach((txt, i) => {
  const row = document.createElement('div');
  row.className = 'row';
  row.style.top = (rowCenters[i] - 16) + 'px';
  row.innerHTML = '<svg width="82" height="32">' + sample[i] + '</svg><span>' + txt + '</span>';
  legend.appendChild(row);
});
wrap.appendChild(legend);
</script>
</body>
</html>
